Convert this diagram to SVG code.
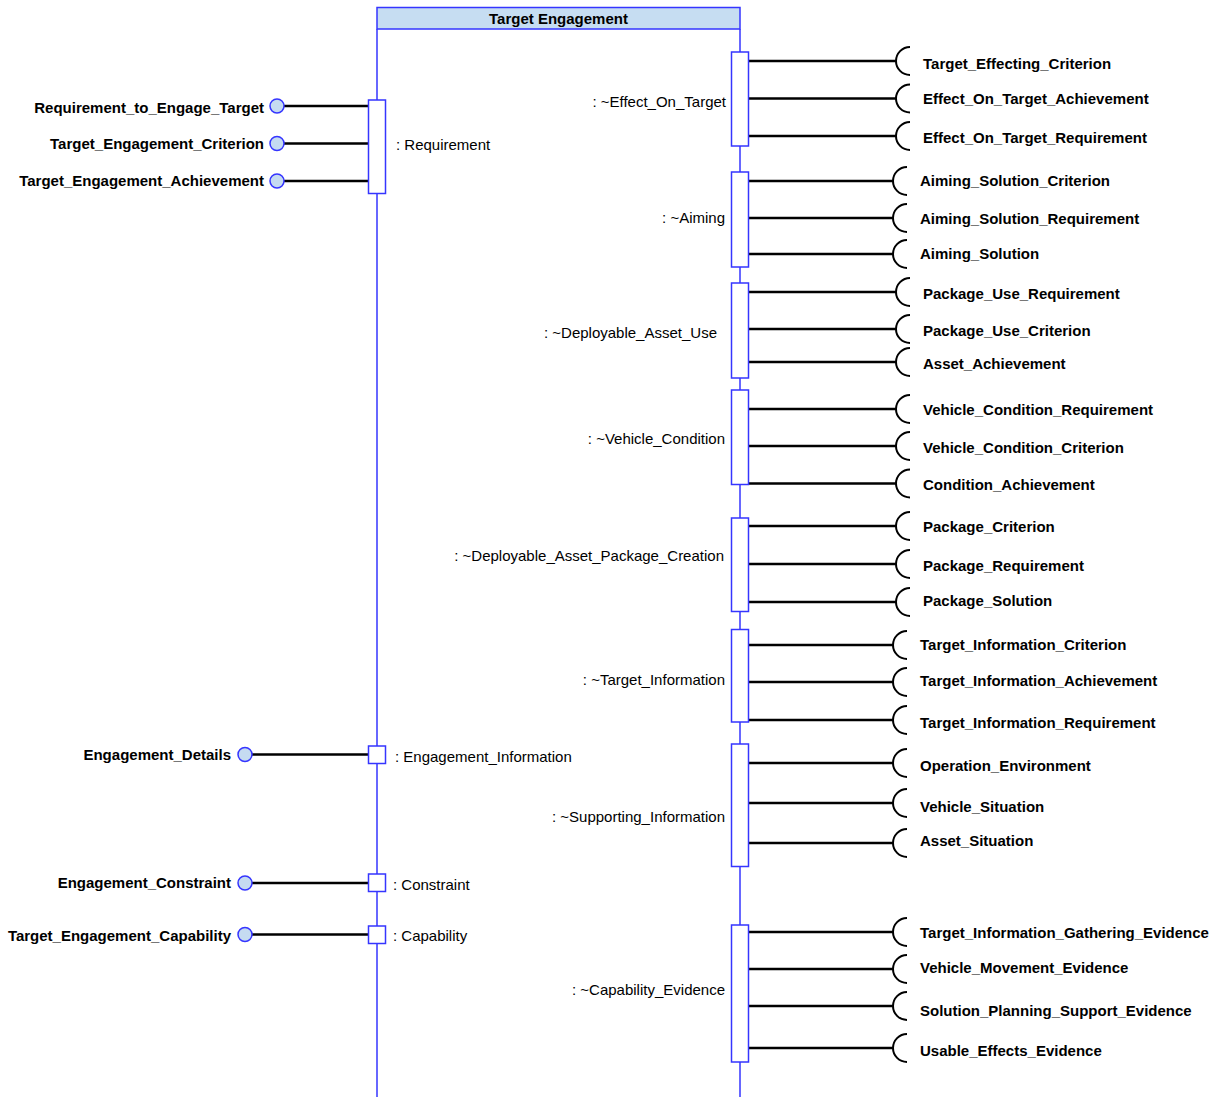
<svg xmlns="http://www.w3.org/2000/svg" width="1218" height="1097" viewBox="0 0 1218 1097">
  <style>
    .frame { fill: none; stroke: #3535ff; stroke-width: 1.5; }
    .head { fill: #c6ddf2; stroke: #3535ff; stroke-width: 1.5; }
    .port { fill: #ffffff; stroke: #3535ff; stroke-width: 1.5; }
    .ball { fill: #c5dbf1; stroke: #3535ff; stroke-width: 1.5; }
    .wire { stroke: #000000; stroke-width: 2.5; fill: none; }
    .sock { stroke: #000000; stroke-width: 2; fill: none; }
    text { font-family: "Liberation Sans", Arial, sans-serif; font-size: 15px; fill: #000000; }
    .b { font-weight: bold; }
    .e { text-anchor: end; }
    .m { text-anchor: middle; }
  </style>

  <!-- Block frame with lifelines -->
  <g id="target_engagement">
    <line class="frame" x1="377" y1="29" x2="377" y2="1097"/>
    <line class="frame" x1="740" y1="29" x2="740" y2="1097"/>
    <rect class="head" x="377" y="7.5" width="363" height="21.5"/>
    <text class="b m" x="558.5" y="24">Target Engagement</text>
  </g>

  <!-- Connectors -->
  <g id="connectors">
    <line class="wire" x1="284" y1="106" x2="369" y2="106"/>
    <line class="wire" x1="284" y1="143.5" x2="369" y2="143.5"/>
    <line class="wire" x1="284" y1="181" x2="369" y2="181"/>
    <line class="wire" x1="252" y1="754.5" x2="369" y2="754.5"/>
    <line class="wire" x1="252" y1="883" x2="369" y2="883"/>
    <line class="wire" x1="252" y1="934.5" x2="369" y2="934.5"/>

    <line class="wire" x1="748" y1="61" x2="896" y2="61"/>
    <line class="wire" x1="748" y1="98.5" x2="896" y2="98.5"/>
    <line class="wire" x1="748" y1="136" x2="896" y2="136"/>
    <line class="wire" x1="748" y1="181" x2="893" y2="181"/>
    <line class="wire" x1="748" y1="218" x2="893" y2="218"/>
    <line class="wire" x1="748" y1="254" x2="893" y2="254"/>
    <line class="wire" x1="748" y1="292" x2="896" y2="292"/>
    <line class="wire" x1="748" y1="329" x2="896" y2="329"/>
    <line class="wire" x1="748" y1="362" x2="896" y2="362"/>
    <line class="wire" x1="748" y1="409" x2="896" y2="409"/>
    <line class="wire" x1="748" y1="446" x2="896" y2="446"/>
    <line class="wire" x1="748" y1="483.5" x2="896" y2="483.5"/>
    <line class="wire" x1="748" y1="526" x2="896" y2="526"/>
    <line class="wire" x1="748" y1="564" x2="896" y2="564"/>
    <line class="wire" x1="748" y1="602" x2="896" y2="602"/>
    <line class="wire" x1="748" y1="645" x2="893" y2="645"/>
    <line class="wire" x1="748" y1="682" x2="893" y2="682"/>
    <line class="wire" x1="748" y1="720" x2="893" y2="720"/>
    <line class="wire" x1="748" y1="763" x2="893" y2="763"/>
    <line class="wire" x1="748" y1="803" x2="893" y2="803"/>
    <line class="wire" x1="748" y1="843" x2="893" y2="843"/>
    <line class="wire" x1="748" y1="932" x2="893" y2="932"/>
    <line class="wire" x1="748" y1="969" x2="893" y2="969"/>
    <line class="wire" x1="748" y1="1006" x2="893" y2="1006"/>
    <line class="wire" x1="748" y1="1048" x2="893" y2="1048"/>
  </g>

  <!-- Ports on the left lifeline -->
  <g id="port_requirement">
    <rect class="port" x="368.5" y="100" width="17" height="93.5"/>
    <text x="396" y="150">: Requirement</text>
  </g>
  <g id="port_engagement_information">
    <rect class="port" x="368.5" y="746" width="17" height="17.5"/>
    <text x="395" y="762">: Engagement_Information</text>
  </g>
  <g id="port_constraint">
    <rect class="port" x="368.5" y="874" width="17" height="17.5"/>
    <text x="393" y="890">: Constraint</text>
  </g>
  <g id="port_capability">
    <rect class="port" x="368.5" y="926" width="17" height="17.5"/>
    <text x="393" y="941">: Capability</text>
  </g>

  <!-- Provided interfaces (left) -->
  <g id="if_requirement_to_engage_target">
    <circle class="ball" cx="277" cy="106" r="7"/>
    <text class="b e" x="264" y="113">Requirement_to_Engage_Target</text>
  </g>
  <g id="if_target_engagement_criterion">
    <circle class="ball" cx="277" cy="143.5" r="7"/>
    <text class="b e" x="264" y="149">Target_Engagement_Criterion</text>
  </g>
  <g id="if_target_engagement_achievement">
    <circle class="ball" cx="277" cy="181" r="7"/>
    <text class="b e" x="264" y="186">Target_Engagement_Achievement</text>
  </g>
  <g id="if_engagement_details">
    <circle class="ball" cx="245" cy="754.5" r="7"/>
    <text class="b e" x="231" y="760">Engagement_Details</text>
  </g>
  <g id="if_engagement_constraint">
    <circle class="ball" cx="245" cy="883" r="7"/>
    <text class="b e" x="231" y="888">Engagement_Constraint</text>
  </g>
  <g id="if_target_engagement_capability">
    <circle class="ball" cx="245" cy="934.5" r="7"/>
    <text class="b e" x="231" y="941">Target_Engagement_Capability</text>
  </g>

  <!-- Ports on the right lifeline -->
  <g id="port_effect_on_target">
    <rect class="port" x="731.5" y="52" width="17" height="94"/>
    <text class="e" x="726" y="107">: ~Effect_On_Target</text>
  </g>
  <g id="port_aiming">
    <rect class="port" x="731.5" y="172" width="17" height="95"/>
    <text class="e" x="725" y="223">: ~Aiming</text>
  </g>
  <g id="port_deployable_asset_use">
    <rect class="port" x="731.5" y="283" width="17" height="95"/>
    <text class="e" x="717" y="338">: ~Deployable_Asset_Use</text>
  </g>
  <g id="port_vehicle_condition">
    <rect class="port" x="731.5" y="390" width="17" height="94.5"/>
    <text class="e" x="725" y="444">: ~Vehicle_Condition</text>
  </g>
  <g id="port_deployable_asset_package_creation">
    <rect class="port" x="731.5" y="518" width="17" height="93.5"/>
    <text class="e" x="724" y="561">: ~Deployable_Asset_Package_Creation</text>
  </g>
  <g id="port_target_information">
    <rect class="port" x="731.5" y="629.5" width="17" height="92.5"/>
    <text class="e" x="725" y="685">: ~Target_Information</text>
  </g>
  <g id="port_supporting_information">
    <rect class="port" x="731.5" y="744" width="17" height="122.5"/>
    <text class="e" x="725" y="822">: ~Supporting_Information</text>
  </g>
  <g id="port_capability_evidence">
    <rect class="port" x="731.5" y="925" width="17" height="137"/>
    <text class="e" x="725" y="995">: ~Capability_Evidence</text>
  </g>

  <!-- Required interfaces (right) -->
  <g id="rq_target_effecting_criterion">
    <path class="sock" d="M910,47 A14,14 0 0 0 910,75"/>
    <text class="b" x="923" y="69">Target_Effecting_Criterion</text>
  </g>
  <g id="rq_effect_on_target_achievement">
    <path class="sock" d="M910,84.5 A14,14 0 0 0 910,112.5"/>
    <text class="b" x="923" y="104">Effect_On_Target_Achievement</text>
  </g>
  <g id="rq_effect_on_target_requirement">
    <path class="sock" d="M910,122 A14,14 0 0 0 910,150"/>
    <text class="b" x="923" y="143">Effect_On_Target_Requirement</text>
  </g>
  <g id="rq_aiming_solution_criterion">
    <path class="sock" d="M907,167 A14,14 0 0 0 907,195"/>
    <text class="b" x="920" y="186">Aiming_Solution_Criterion</text>
  </g>
  <g id="rq_aiming_solution_requirement">
    <path class="sock" d="M907,204 A14,14 0 0 0 907,232"/>
    <text class="b" x="920" y="224">Aiming_Solution_Requirement</text>
  </g>
  <g id="rq_aiming_solution">
    <path class="sock" d="M907,240 A14,14 0 0 0 907,268"/>
    <text class="b" x="920" y="259">Aiming_Solution</text>
  </g>
  <g id="rq_package_use_requirement">
    <path class="sock" d="M910,278 A14,14 0 0 0 910,306"/>
    <text class="b" x="923" y="299">Package_Use_Requirement</text>
  </g>
  <g id="rq_package_use_criterion">
    <path class="sock" d="M910,315 A14,14 0 0 0 910,343"/>
    <text class="b" x="923" y="336">Package_Use_Criterion</text>
  </g>
  <g id="rq_asset_achievement">
    <path class="sock" d="M910,348 A14,14 0 0 0 910,376"/>
    <text class="b" x="923" y="369">Asset_Achievement</text>
  </g>
  <g id="rq_vehicle_condition_requirement">
    <path class="sock" d="M910,395 A14,14 0 0 0 910,423"/>
    <text class="b" x="923" y="415">Vehicle_Condition_Requirement</text>
  </g>
  <g id="rq_vehicle_condition_criterion">
    <path class="sock" d="M910,432 A14,14 0 0 0 910,460"/>
    <text class="b" x="923" y="453">Vehicle_Condition_Criterion</text>
  </g>
  <g id="rq_condition_achievement">
    <path class="sock" d="M910,469.5 A14,14 0 0 0 910,497.5"/>
    <text class="b" x="923" y="490">Condition_Achievement</text>
  </g>
  <g id="rq_package_criterion">
    <path class="sock" d="M910,512 A14,14 0 0 0 910,540"/>
    <text class="b" x="923" y="532">Package_Criterion</text>
  </g>
  <g id="rq_package_requirement">
    <path class="sock" d="M910,550 A14,14 0 0 0 910,578"/>
    <text class="b" x="923" y="571">Package_Requirement</text>
  </g>
  <g id="rq_package_solution">
    <path class="sock" d="M910,588 A14,14 0 0 0 910,616"/>
    <text class="b" x="923" y="606">Package_Solution</text>
  </g>
  <g id="rq_target_information_criterion">
    <path class="sock" d="M907,631 A14,14 0 0 0 907,659"/>
    <text class="b" x="920" y="650">Target_Information_Criterion</text>
  </g>
  <g id="rq_target_information_achievement">
    <path class="sock" d="M907,668 A14,14 0 0 0 907,696"/>
    <text class="b" x="920" y="686">Target_Information_Achievement</text>
  </g>
  <g id="rq_target_information_requirement">
    <path class="sock" d="M907,706 A14,14 0 0 0 907,734"/>
    <text class="b" x="920" y="728">Target_Information_Requirement</text>
  </g>
  <g id="rq_operation_environment">
    <path class="sock" d="M907,749 A14,14 0 0 0 907,777"/>
    <text class="b" x="920" y="771">Operation_Environment</text>
  </g>
  <g id="rq_vehicle_situation">
    <path class="sock" d="M907,789 A14,14 0 0 0 907,817"/>
    <text class="b" x="920" y="812">Vehicle_Situation</text>
  </g>
  <g id="rq_asset_situation">
    <path class="sock" d="M907,829 A14,14 0 0 0 907,857"/>
    <text class="b" x="920" y="846">Asset_Situation</text>
  </g>
  <g id="rq_target_information_gathering_evidence">
    <path class="sock" d="M907,918 A14,14 0 0 0 907,946"/>
    <text class="b" x="920" y="938">Target_Information_Gathering_Evidence</text>
  </g>
  <g id="rq_vehicle_movement_evidence">
    <path class="sock" d="M907,955 A14,14 0 0 0 907,983"/>
    <text class="b" x="920" y="973">Vehicle_Movement_Evidence</text>
  </g>
  <g id="rq_solution_planning_support_evidence">
    <path class="sock" d="M907,992 A14,14 0 0 0 907,1020"/>
    <text class="b" x="920" y="1016">Solution_Planning_Support_Evidence</text>
  </g>
  <g id="rq_usable_effects_evidence">
    <path class="sock" d="M907,1034 A14,14 0 0 0 907,1062"/>
    <text class="b" x="920" y="1056">Usable_Effects_Evidence</text>
  </g>
</svg>
